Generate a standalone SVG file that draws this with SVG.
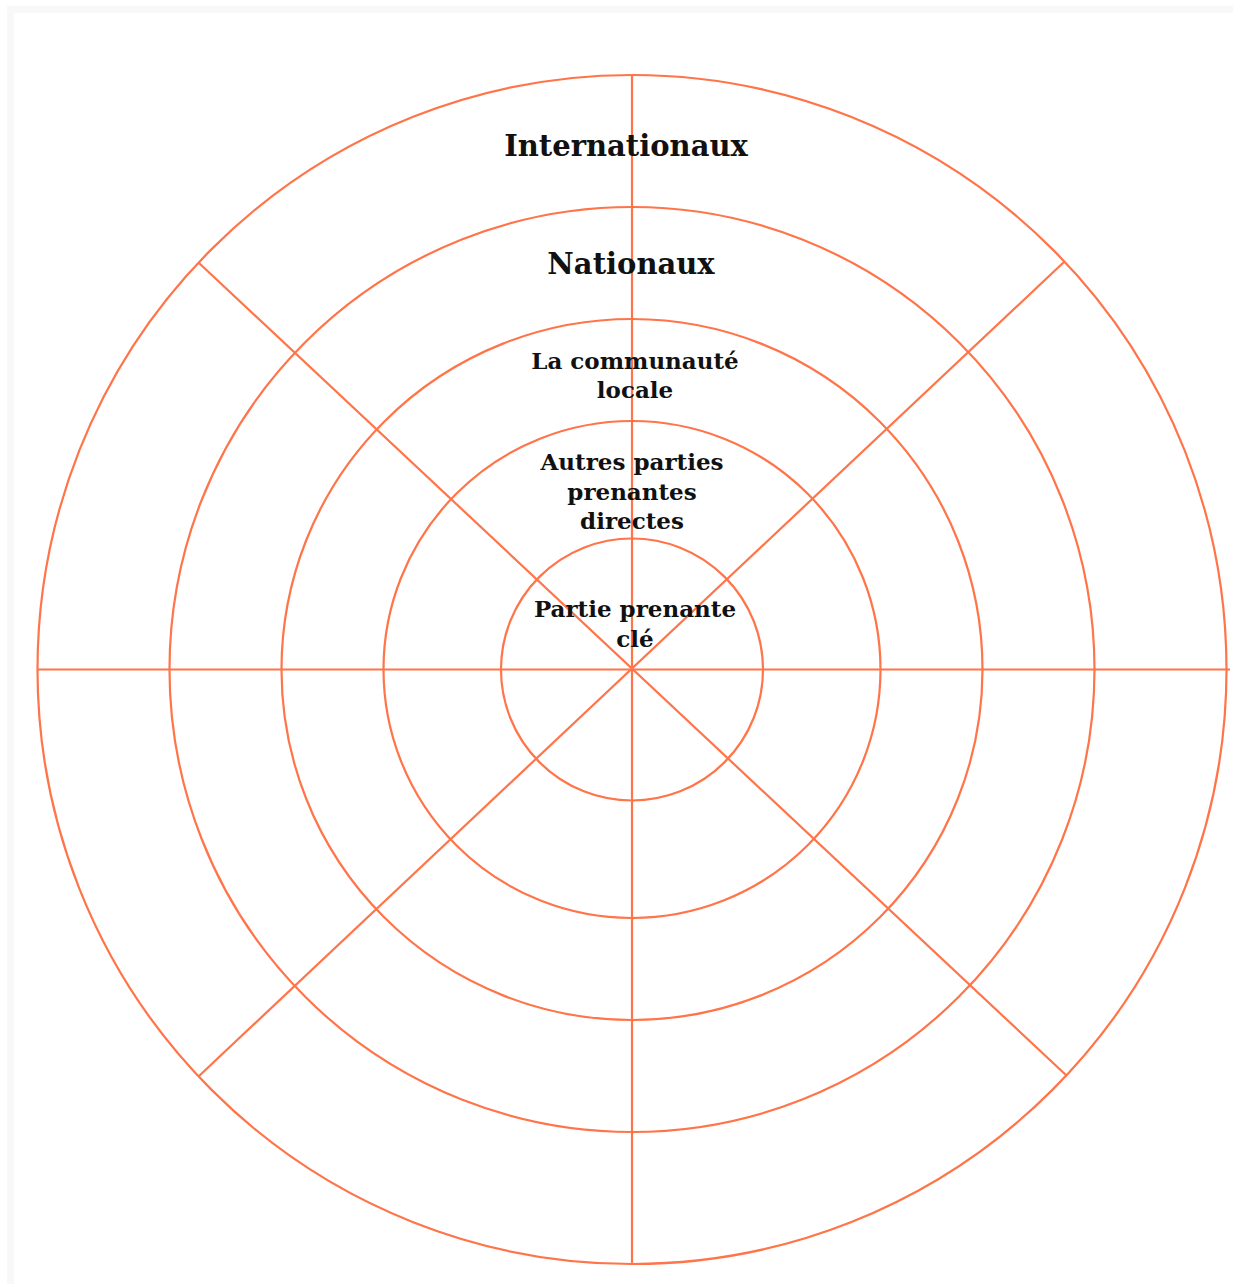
<svg xmlns="http://www.w3.org/2000/svg" width="1233" height="1284" viewBox="0 0 1233 1284">
<style>
.ring{fill:none;stroke:#ff7448;stroke-width:2.2}
.ray{stroke:#ff7448;stroke-width:2.2}
.lbl{font-family:"DejaVu Serif","Liberation Serif",serif;font-weight:bold;fill:#111;text-anchor:middle}
.big{font-size:29px}
.sm{font-size:23px}
</style>
<rect x="0" y="0" width="1233" height="1284" fill="#ffffff"/>
<rect x="7" y="6" width="1226" height="1278" fill="#f8f8f8"/>
<rect x="14" y="13" width="1219" height="1271" fill="#ffffff"/>
<g id="rings">
<circle id="ring-internationaux" class="ring" cx="632" cy="669.5" r="594.5"/>
<circle id="ring-nationaux" class="ring" cx="632" cy="669.5" r="462.5"/>
<circle id="ring-locale" class="ring" cx="632" cy="669.5" r="350.5"/>
<circle id="ring-autres" class="ring" cx="632" cy="669.5" r="248.5"/>
<circle id="ring-cle" class="ring" cx="632" cy="669.5" r="131"/>
</g>
<g id="connectors">
<line class="ray" x1="632" y1="75" x2="632" y2="1264"/>
<line class="ray" x1="37" y1="669.5" x2="1230" y2="669.5"/>
<line class="ray" x1="199" y1="263" x2="1067" y2="1076"/>
<line class="ray" x1="1064" y1="262" x2="199" y2="1076"/>
</g>
<g id="label-internationaux"><text class="lbl big" x="626" y="156">Internationaux</text></g>
<g id="label-nationaux"><text class="lbl big" x="631" y="274">Nationaux</text></g>
<g id="label-locale"><text class="lbl sm" x="635" y="369">La communauté</text><text class="lbl sm" x="635" y="398">locale</text></g>
<g id="label-autres"><text class="lbl sm" x="632" y="470">Autres parties</text><text class="lbl sm" x="632" y="500">prenantes</text><text class="lbl sm" x="632" y="529">directes</text></g>
<g id="label-cle"><text class="lbl sm" x="635" y="617">Partie prenante</text><text class="lbl sm" x="635" y="647">clé</text></g>
</svg>
